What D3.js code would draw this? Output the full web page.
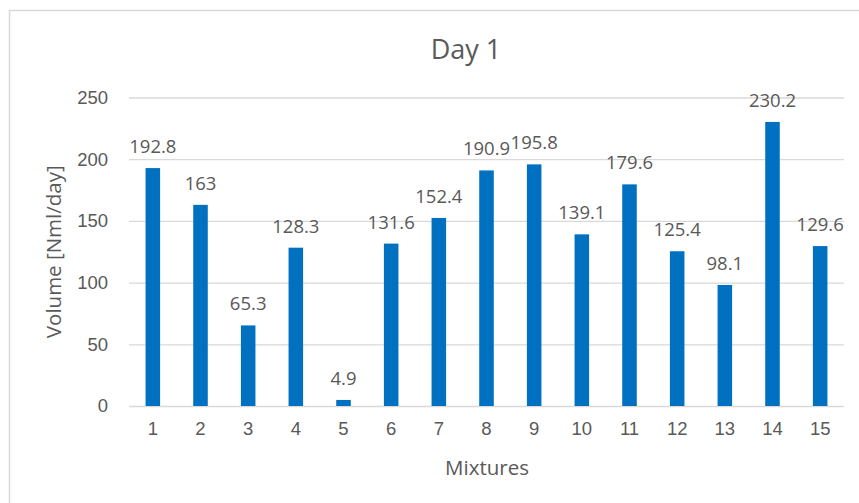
<!DOCTYPE html>
<html>
<head>
<meta charset="utf-8">
<script src="https://cdn.jsdelivr.net/npm/d3@7"></script>
<style>
  html, body { margin: 0; padding: 0; background: #fff; }
  svg { display: block; font-family: "Open Sans", "Noto Sans", sans-serif; }
</style>
</head>
<body>
<svg id="chart" width="859" height="503"></svg>
<script>
// Daily gas volume per mixture
const mixtures = ["1","2","3","4","5","6","7","8","9","10","11","12","13","14","15"];
const volumes = [192.8, 163, 65.3, 128.3, 4.9, 131.6, 152.4, 190.9, 195.8, 139.1, 179.6, 125.4, 98.1, 230.2, 129.6];
const yTicks = [0, 50, 100, 150, 200, 250];

const W = 859, H = 503;
const margin = { left: 129, right: 15, top: 97.5, bottom: 97 };
const textColor = "#595959";
const gridColor = "#d9d9d9";
const barColor = "#0070C0";

const svg = d3.select("#chart");

// outer chart frame
svg.append("rect")
  .attr("x", 9.5).attr("y", 10.5)
  .attr("width", W + 20).attr("height", H + 20)
  .attr("fill", "#fff")
  .attr("stroke", gridColor)
  .attr("stroke-width", 1.5);

const x = d3.scaleBand()
  .domain(mixtures)
  .range([margin.left, W - margin.right])
  .paddingInner(0.695)
  .paddingOuter(0.3475);

const y = d3.scaleLinear()
  .domain([0, 250])
  .range([H - margin.bottom, margin.top]);

// horizontal gridlines + y tick labels
const yAxis = d3.axisLeft(y)
  .tickValues(yTicks)
  .tickSize(-(W - margin.right - margin.left))
  .tickPadding(21);

const gy = svg.append("g")
  .attr("transform", `translate(${margin.left},0)`)
  .call(yAxis);
gy.select(".domain").remove();
gy.selectAll(".tick line").attr("stroke", gridColor).attr("stroke-width", 1.3);
gy.selectAll(".tick text")
  .attr("fill", textColor)
  .style("font-size", "18.5px");

// x tick labels
const xAxis = d3.axisBottom(x).tickSize(0).tickPadding(16);
const gx = svg.append("g")
  .attr("transform", `translate(0,${H - margin.bottom})`)
  .call(xAxis);
gx.select(".domain").remove();
gx.selectAll(".tick text")
  .attr("fill", textColor)
  .style("font-size", "18.5px");

// bars
svg.append("g").selectAll("rect")
  .data(volumes)
  .join("rect")
  .attr("x", (d, i) => x(mixtures[i]))
  .attr("y", d => y(d))
  .attr("width", x.bandwidth())
  .attr("height", d => y(0) - y(d))
  .attr("fill", barColor);

// value labels
svg.append("g").selectAll("text")
  .data(volumes)
  .join("text")
  .attr("x", (d, i) => x(mixtures[i]) + x.bandwidth() / 2)
  .attr("y", d => y(d) - 15)
  .attr("text-anchor", "middle")
  .attr("fill", textColor)
  .style("font-size", "18.5px")
  .text(d => String(d));

// title
svg.append("text")
  .attr("x", 466).attr("y", 59)
  .attr("text-anchor", "middle")
  .attr("fill", textColor)
  .style("font-size", "27px")
  .text("Day 1");

// axis titles
svg.append("text")
  .attr("x", 487).attr("y", 475)
  .attr("text-anchor", "middle")
  .attr("fill", textColor)
  .style("font-size", "20.5px")
  .text("Mixtures");

svg.append("text")
  .attr("transform", `translate(61,${(y(0) + y(250)) / 2}) rotate(-90)`)
  .attr("text-anchor", "middle")
  .attr("fill", textColor)
  .style("font-size", "20.5px")
  .text("Volume [Nml/day]");
</script>
</body>
</html>
